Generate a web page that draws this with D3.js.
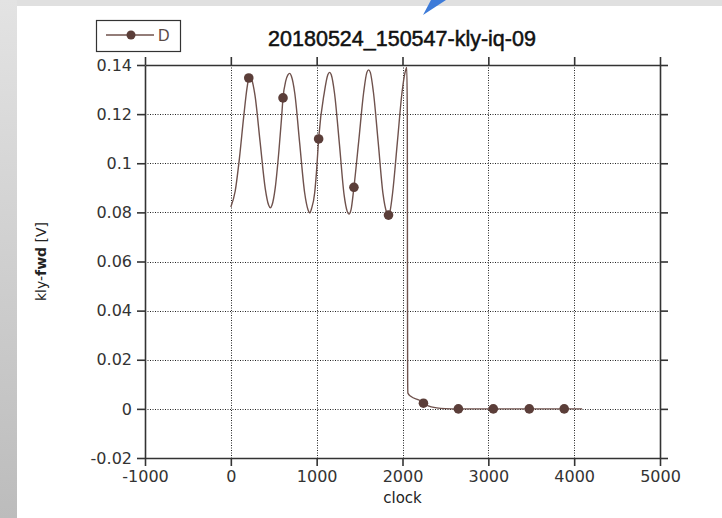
<!DOCTYPE html>
<html>
<head>
<meta charset="utf-8">
<script src="https://cdn.jsdelivr.net/npm/d3@7"></script>
<style>
  body { margin: 0; background: #fff; }
  svg { display: block; }
</style>
</head>
<body>
<svg id="chart"></svg>
<script>
// trace (clock, kly-fwd [V])
const traceClock = [0, 50, 100, 150, 190, 209, 221, 240, 281, 341, 401, 440, 461, 480, 517, 560, 590, 608, 640, 665, 686, 705, 745, 802, 860, 900, 919, 940, 977, 1000, 1023, 1090, 1130, 1151, 1170, 1208, 1264, 1320, 1355, 1376, 1400, 1434, 1490, 1548, 1585, 1605, 1625, 1661, 1717, 1773, 1815, 1837, 1855, 1885, 1940, 1995, 2030, 2050, 2056, 2058, 2060, 2063, 2100, 2198, 2244, 2300, 2400, 2500, 2651, 3058, 3477, 3884, 4093];
const traceValue = [0.0822, 0.0885, 0.1020, 0.1190, 0.1310, 0.1347, 0.1355, 0.1345, 0.1277, 0.1087, 0.0897, 0.0830, 0.0819, 0.0830, 0.0899, 0.1050, 0.1180, 0.1266, 0.1335, 0.1360, 0.1366, 0.1355, 0.1285, 0.1082, 0.0880, 0.0810, 0.0798, 0.0815, 0.0880, 0.0975, 0.1099, 0.1290, 0.1360, 0.1370, 0.1360, 0.1285, 0.1082, 0.0870, 0.0805, 0.0793, 0.0810, 0.0902, 0.1090, 0.1290, 0.1370, 0.1380, 0.1370, 0.1290, 0.1085, 0.0875, 0.0800, 0.0789, 0.0805, 0.0880, 0.1085, 0.1290, 0.1370, 0.1390, 0.1200, 0.0500, 0.0117, 0.0064, 0.0050, 0.0035, 0.0023, 0.0012, 0.0004, 0.0001, 0, 0, 0, 0, 0];

// marker points
const markerClock = [209, 608, 1023, 1434, 1837, 2244, 2651, 3058, 3477, 3884];
const markerValue = [0.1347, 0.1266, 0.1099, 0.0902, 0.0789, 0.0023, 0, 0, 0, 0];

const xTicks = [-1000, 0, 1000, 2000, 3000, 4000, 5000];
const xTickLabels = ['-1000', '0', '1000', '2000', '3000', '4000', '5000'];
const yTicks = [-0.02, 0, 0.02, 0.04, 0.06, 0.08, 0.1, 0.12, 0.14];
const yTickLabels = ['-0.02', '0', '0.02', '0.04', '0.06', '0.08', '0.1', '0.12', '0.14'];

const seriesName = 'D';
const title = '20180524_150547-kly-iq-09';

const width = 722;
const height = 518;
const margin = { top: 65, right: 62, bottom: 60, left: 145 };
const lineColor = '#6f524d';
const dotColor = '#5b3e39';
const axisColor = '#333';

const svg = d3.select('#chart').attr('width', width).attr('height', height);

// window background
const defs = svg.append('defs');
const grad = defs.append('linearGradient').attr('id', 'strip').attr('x1', 0).attr('y1', 0).attr('x2', 0).attr('y2', 1);
grad.append('stop').attr('offset', '0%').attr('stop-color', '#e3e3e3');
grad.append('stop').attr('offset', '100%').attr('stop-color', '#bcbcbc');

svg.append('rect').attr('width', width).attr('height', height).attr('fill', '#e0e0e0');
svg.append('rect').attr('x', 0).attr('y', 0).attr('width', 17).attr('height', height).attr('fill', 'url(#strip)');
svg.append('rect').attr('x', 17).attr('y', 6).attr('width', width - 17).attr('height', height - 6).attr('fill', '#fff');
svg.append('polygon').attr('points', '423,15 431,0 446,0').attr('fill', '#3d7bd9');

const x = d3.scaleLinear()
  .domain([-1000, 5000])
  .range([margin.left, width - margin.right]);

const y = d3.scaleLinear()
  .domain([-0.02, 0.14])
  .range([height - margin.bottom, margin.top]);

const x0 = margin.left, x1 = width - margin.right;
const y0 = height - margin.bottom, y1 = margin.top;

// dotted grid
const grid = svg.append('g')
  .attr('stroke', '#222')
  .attr('stroke-width', 1)
  .attr('stroke-dasharray', '1,1.5');

grid.selectAll('.gx')
  .data(xTicks.slice(1, -1))
  .enter()
  .append('line')
  .attr('x1', d => Math.round(x(d)) + 0.5)
  .attr('x2', d => Math.round(x(d)) + 0.5)
  .attr('y1', y1)
  .attr('y2', y0);

grid.selectAll('.gy')
  .data(yTicks.slice(1, -1))
  .enter()
  .append('line')
  .attr('y1', d => Math.round(y(d)) + 0.5)
  .attr('y2', d => Math.round(y(d)) + 0.5)
  .attr('x1', x0)
  .attr('x2', x1);

// axes on all four sides, ticks outward
const font = '"DejaVu Sans", sans-serif';
const fmtX = d => xTickLabels[xTicks.indexOf(d)];
const fmtY = d => yTickLabels[yTicks.indexOf(d)];

function styleAxis(g) {
  g.select('.domain').attr('stroke', axisColor).attr('stroke-width', 1.6);
  g.selectAll('.tick line').attr('stroke', axisColor).attr('stroke-width', 1.6);
  g.selectAll('.tick text').attr('fill', '#333').style('font-family', font).style('font-size', '16px');
}

svg.append('g')
  .attr('transform', `translate(0, ${y0})`)
  .call(d3.axisBottom(x).tickValues(xTicks).tickFormat(fmtX).tickSize(8).tickSizeOuter(0).tickPadding(5))
  .call(styleAxis);

svg.append('g')
  .attr('transform', `translate(0, ${y1})`)
  .call(d3.axisTop(x).tickValues(xTicks).tickFormat('').tickSize(8).tickSizeOuter(0))
  .call(styleAxis);

svg.append('g')
  .attr('transform', `translate(${x0}, 0)`)
  .call(d3.axisLeft(y).tickValues(yTicks).tickFormat(fmtY).tickSize(8).tickSizeOuter(0).tickPadding(5))
  .call(styleAxis);

svg.append('g')
  .attr('transform', `translate(${x1}, 0)`)
  .call(d3.axisRight(y).tickValues(yTicks).tickFormat('').tickSize(8).tickSizeOuter(0))
  .call(styleAxis);

// trace
const trace = traceClock.map((c, i) => [c, traceValue[i]]);
const line = d3.line()
  .x(d => x(d[0]))
  .y(d => y(d[1]))
  .curve(d3.curveMonotoneX);

svg.append('path')
  .datum(trace)
  .attr('fill', 'none')
  .attr('stroke', lineColor)
  .attr('stroke-width', 1.4)
  .attr('d', line);

svg.selectAll('.dot')
  .data(markerClock)
  .enter()
  .append('circle')
  .attr('class', 'dot')
  .attr('cx', d => x(d))
  .attr('cy', (d, i) => y(markerValue[i]))
  .attr('r', 4.8)
  .attr('fill', dotColor);

// axis titles
svg.append('text')
  .attr('x', (x0 + x1) / 2)
  .attr('y', 503)
  .attr('text-anchor', 'middle')
  .attr('fill', '#222')
  .style('font-family', font)
  .style('font-size', '15px')
  .text('clock');

const yl = svg.append('text')
  .attr('transform', `translate(46, ${(y0 + y1) / 2}) rotate(-90)`)
  .attr('text-anchor', 'middle')
  .attr('fill', '#222')
  .style('font-family', font)
  .style('font-size', '14px');
yl.append('tspan').text('kly-');
yl.append('tspan').attr('font-weight', 'bold').text('fwd');
yl.append('tspan').text(' [V]');

// title
svg.append('text')
  .attr('x', 402)
  .attr('y', 46)
  .attr('text-anchor', 'middle')
  .attr('fill', '#111')
  .attr('stroke', '#111')
  .attr('stroke-width', 0.5)
  .style('font-family', '"Liberation Sans", Arial, sans-serif')
  .style('font-size', '21.5px')
  .text(title);

// legend
const legend = svg.append('g');
legend.append('rect')
  .attr('x', 96.5).attr('y', 20.5).attr('width', 84).attr('height', 31)
  .attr('fill', '#fff').attr('stroke', '#333').attr('stroke-width', 1.2);
legend.append('line')
  .attr('x1', 106).attr('x2', 154).attr('y1', 35).attr('y2', 35)
  .attr('stroke', lineColor).attr('stroke-width', 1.4);
legend.append('circle')
  .attr('cx', 131).attr('cy', 35).attr('r', 4.5).attr('fill', dotColor);
legend.append('text')
  .attr('x', 158).attr('y', 41)
  .attr('fill', '#5a4a46')
  .style('font-family', '"Liberation Sans", Arial, sans-serif')
  .style('font-size', '16px')
  .text(seriesName);
</script>
</body>
</html>
